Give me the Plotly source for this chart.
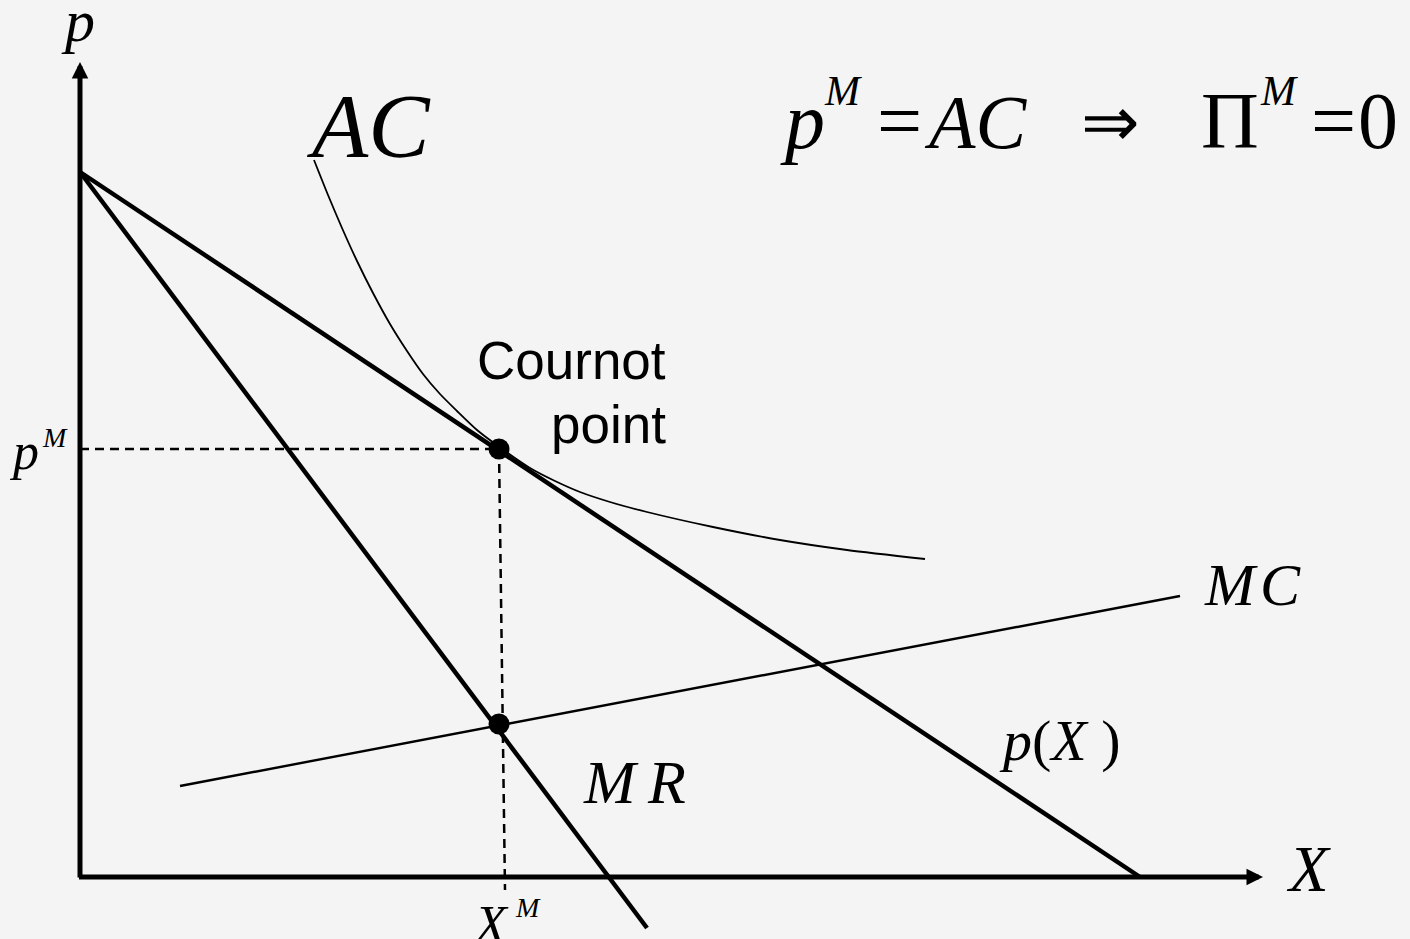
import plotly.graph_objects as go

# ---------------- data (economic units; 1 unit = 100 px on the canvas) -------------
demand_x = [0.0, 10.6]
demand_p = [7.05, 0.0]

mr_x = [0.0, 5.67]
mr_p = [7.05, -0.51]

mc_x = [1.0, 11.0]
mc_p = [0.91, 2.81]

ac_x = [2.34, 2.48, 2.62, 2.77, 2.93, 3.10, 3.27, 3.43, 3.60, 3.77, 3.97, 4.18,
        4.50, 4.75, 5.00, 5.30, 5.67, 6.33, 7.00, 7.67, 8.45]
ac_p = [7.17, 6.82, 6.49, 6.16, 5.84, 5.53, 5.26, 5.03, 4.83, 4.66, 4.47, 4.31,
        4.09, 3.96, 3.85, 3.75, 3.65, 3.50, 3.37, 3.27, 3.18]

cournot_x = [4.19]
cournot_p = [4.28]
mr_mc_x = [4.19]
mr_mc_p = [1.53]

pm_dash_x = [0.0, 4.19]
pm_dash_p = [4.28, 4.28]
xm_dash_x = [4.19, 4.25]
xm_dash_p = [4.28, -0.13]

axis_p_top = 8.15
axis_x_end = 11.83

X_RANGE = [-0.80, 13.30]
Y_RANGE = [-0.62, 8.77]

W, H = 1410, 939
BG = "#f4f4f4"
SERIF = "Liberation Serif, Times New Roman, serif"
SANS = "Liberation Sans, Arial, sans-serif"

fig = go.Figure()

def line(x, y, w, dash=None):
    fig.add_trace(go.Scatter(x=x, y=y, mode="lines",
                             line=dict(color="black", width=w, dash=dash),
                             hoverinfo="skip", showlegend=False))

line(demand_x, demand_p, 4.5)
line(mr_x, mr_p, 4.5)
line(mc_x, mc_p, 2.4)
fig.add_trace(go.Scatter(x=ac_x, y=ac_p, mode="lines",
                         line=dict(color="black", width=1.8, shape="spline", smoothing=0.7),
                         hoverinfo="skip", showlegend=False))
line(pm_dash_x, pm_dash_p, 2.5, "9px,6px")
line(xm_dash_x, xm_dash_p, 2.5, "9px,6px")

fig.add_trace(go.Scatter(x=cournot_x + mr_mc_x, y=cournot_p + mr_mc_p, mode="markers",
                         marker=dict(color="black", size=21),
                         hoverinfo="skip", showlegend=False))

# axes with arrow heads
fig.add_annotation(x=0, y=axis_p_top, ax=0, ay=-0.02, xref="x", yref="y", axref="x", ayref="y",
                   text="", showarrow=True, arrowhead=2, arrowsize=0.66, arrowwidth=5,
                   arrowcolor="black", standoff=0, startstandoff=0)
fig.add_annotation(x=axis_x_end, y=0, ax=-0.025, ay=0, xref="x", yref="y", axref="x", ayref="y",
                   text="", showarrow=True, arrowhead=2, arrowsize=0.66, arrowwidth=5,
                   arrowcolor="black", standoff=0, startstandoff=0)

# ---------------- text labels (positions given as canvas pixels) -----------------
K = 0.34

def label(text, px, baseline, size, anchor="center", family=SERIF):
    fig.add_annotation(x=px / W, y=1 - (baseline - K * size) / H, xref="paper", yref="paper",
                       text=text, showarrow=False, xanchor=anchor, yanchor="middle",
                       font=dict(family=family, size=size, color="black"))

label("<i>p</i>", 78, 41, 60)
label("<i>AC</i>", 368, 157, 92)

# equation
label("<i>p</i>", 778, 148, 80, "left")
label("<i>M</i>", 822, 105, 42, "left")
label("=", 899, 148, 80)
label("<i>AC</i>", 975, 148, 76)
label("\u21d2", 1110, 146, 70)
label("\u03a0", 1230, 148, 80)
label("<i>M</i>", 1258, 105, 42, "left")
label("=", 1333, 148, 80)
label("0", 1378, 148, 80)

# p^M and X^M
label("<i>p</i>", 24, 469, 52)
label("<i>M</i>", 40, 447, 28, "left")
label("<i>X</i>", 491, 942, 52)
label("<i>M</i>", 513, 917, 28, "left")

label("<i>X</i>", 1308, 891, 65)
label("<i>M\u200aC</i>", 1252, 605, 60)
label("<i>p</i>(<i>X</i> )", 1060, 760, 58)
label("<i>M\u2009R</i>", 634, 803, 62)

label("Cournot", 668, 379, 53, "right", SANS)
label("point", 668, 443, 53, "right", SANS)

fig.update_layout(
    width=W, height=H, margin=dict(l=0, r=0, t=0, b=0),
    paper_bgcolor=BG, plot_bgcolor=BG,
    xaxis=dict(range=X_RANGE, visible=False, fixedrange=True),
    yaxis=dict(range=Y_RANGE, visible=False, fixedrange=True),
    showlegend=False,
)

fig.write_html("out.html", config={"displayModeBar": False},
               post_script="document.body.style.margin='0';")
